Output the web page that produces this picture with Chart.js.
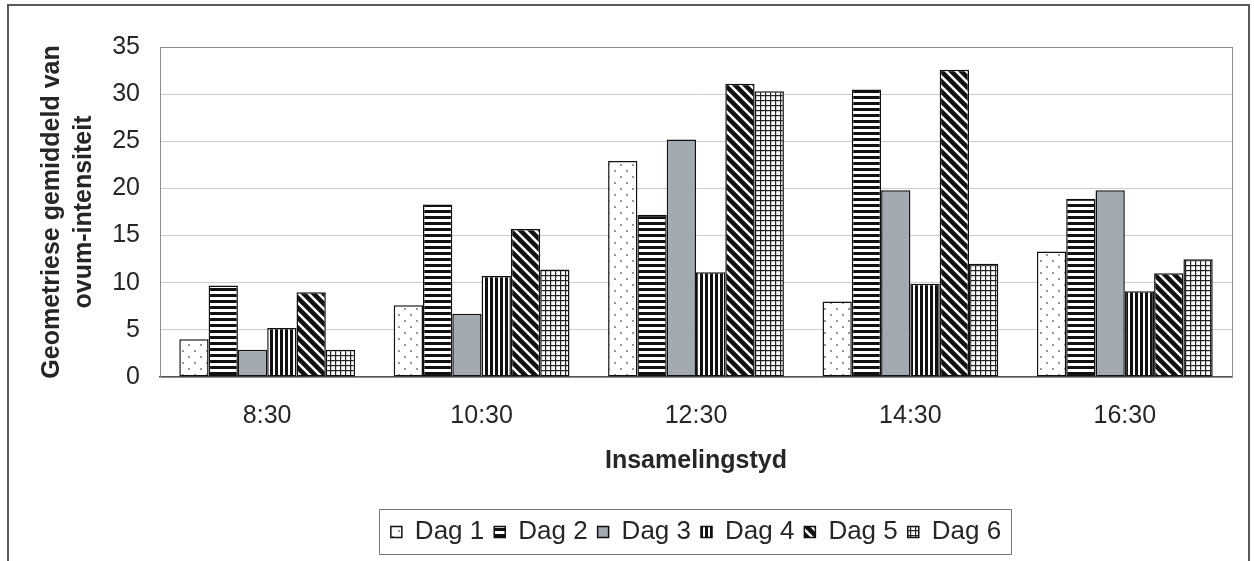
<!DOCTYPE html>
<html><head><meta charset="utf-8">
<script src="https://cdn.jsdelivr.net/npm/chart.js@4/dist/chart.umd.min.js"></script>
<style>
html,body{margin:0;padding:0;background:#fff;overflow:hidden;}
#wrap{position:relative;width:1254px;height:561px;}
#frame{position:absolute;left:7px;top:4px;width:1243px;height:620px;border:2px solid #5a5a5a;box-sizing:border-box;pointer-events:none;}
canvas{position:absolute;left:0;top:0;}
</style></head><body>
<div id="wrap"><canvas id="c" width="1254" height="561"></canvas><div id="frame"></div></div>
<script>
// ---- data ----
const categories = ['8:30', '10:30', '12:30', '14:30', '16:30'];
const seriesNames = ['Dag 1', 'Dag 2', 'Dag 3', 'Dag 4', 'Dag 5', 'Dag 6'];
const dag1 = [4.0, 7.6, 22.9, 8.0, 13.3];
const dag2 = [9.7, 18.3, 17.2, 30.5, 18.9];
const dag3 = [2.9, 6.7, 25.2, 19.8, 19.8];
const dag4 = [5.2, 10.7, 11.1, 9.9, 9.1];
const dag5 = [9.0, 15.7, 31.1, 32.6, 11.0];
const dag6 = [2.9, 11.4, 30.3, 12.0, 12.5];
const yMin = 0, yMax = 35, yStep = 5;
const yTitle = ['Geometriese gemiddeld van', 'ovum-intensiteit'];
const xTitle = 'Insamelingstyd';

// ---- patterns ----
const canvas = document.getElementById('c');
const mainCtx = canvas.getContext('2d');
function makePattern(w, h, draw) {
  const t = document.createElement('canvas');
  t.width = w; t.height = h;
  const g = t.getContext('2d');
  g.fillStyle = '#fff'; g.fillRect(0, 0, w, h);
  draw(g, w, h);
  return mainCtx.createPattern(t, 'repeat');
}
const pDots = makePattern(12, 12, g => {
  g.fillStyle = '#666';
  g.beginPath(); g.arc(3, 3, 0.9, 0, Math.PI * 2); g.fill();
  g.beginPath(); g.arc(9, 9, 0.9, 0, Math.PI * 2); g.fill();
});
const pHoriz = makePattern(6, 6, g => { g.fillStyle = '#111'; g.fillRect(0, 0, 6, 3); });
const pGray = '#a3a9b0';
const pVert = makePattern(5, 5, g => { g.fillStyle = '#111'; g.fillRect(0, 0, 3, 5); });
const pDiag = makePattern(10, 10, g => {
  g.strokeStyle = '#111'; g.lineWidth = 4.5; g.lineCap = 'square';
  g.beginPath();
  g.moveTo(-5, -5); g.lineTo(15, 15);
  g.moveTo(-5, 5); g.lineTo(5, 15);
  g.moveTo(5, -5); g.lineTo(15, 5);
  g.stroke();
});
const pGrid = makePattern(5, 5, g => { g.fillStyle = '#222'; g.fillRect(0, 0, 5, 1.2); g.fillRect(0, 0, 1.2, 5); });
const fills = [pDots, pHoriz, pGray, pVert, pDiag, pGrid];
const seriesValues = [dag1, dag2, dag3, dag4, dag5, dag6];

const FONT = '"Liberation Sans", Arial, sans-serif';
const TXT = '#262626';

const framePlugin = {
  id: 'frames',
  afterUpdate(chart) {
    const lg = chart.legend;
    const ca = chart.chartArea;
    const d = (ca.left + ca.right) / 2 - (lg.left + lg.right) / 2;
    lg.left += d; lg.right += d;
  },
  beforeDatasetsDraw(chart) {
    const {ctx, chartArea: a} = chart;
    ctx.save();
    ctx.strokeStyle = '#8c8c8c'; ctx.lineWidth = 1;
    ctx.strokeRect(a.left + 0.5, a.top + 0.5, a.right - a.left, a.bottom - a.top);
    ctx.restore();
  },
  afterDraw(chart) {
    const lg = chart.legend;
    const pad = lg.options.labels.padding;
    const rowW = lg.lineWidths[0];
    const startX = (lg.left + pad + lg.right - rowW) / 2;
    const fs = lg.options.labels.font.size;
    const cy = lg.top + pad + fs / 2;
    const {ctx} = chart;
    ctx.save();
    ctx.strokeStyle = '#777'; ctx.lineWidth = 1;
    ctx.strokeRect(Math.round(startX - 12) + 0.5, Math.round(cy - 23) + 0.5, Math.round(rowW - pad + 22), 45);
    ctx.restore();
  }
};

new Chart(canvas, {
  type: 'bar',
  data: {
    labels: categories,
    datasets: seriesNames.map((n, i) => ({
      label: n,
      data: seriesValues[i],
      backgroundColor: fills[i],
      borderColor: '#111',
      borderWidth: 1.5,
      borderSkipped: false,
      categoryPercentage: 0.82,
      barPercentage: 1.0
    }))
  },
  options: {
    responsive: false,
    animation: false,
    devicePixelRatio: 1,
    layout: {padding: {left: 20, right: 22, top: 47, bottom: 6}},
    plugins: {
      tooltip: {enabled: false},
      legend: {
        position: 'bottom',
        labels: {
          boxWidth: 11, boxHeight: 11, padding: 10,
          color: TXT,
          font: {family: FONT, size: 26}
        }
      }
    },
    scales: {
      x: {
        grid: {display: false},
        border: {display: true, color: '#555', width: 1.5},
        ticks: {color: TXT, font: {family: FONT, size: 25}, padding: 16, maxRotation: 0},
        title: {display: true, text: xTitle, color: TXT, font: {family: FONT, size: 25, weight: 'bold'}, padding: {top: 0, bottom: 33}},
        afterFit(s) { s.height = 132; }
      },
      y: {
        min: yMin, max: yMax,
        ticks: {stepSize: yStep, color: TXT, font: {family: FONT, size: 25}, padding: 20},
        grid: {color: '#cdcdcd', lineWidth: 1, drawTicks: false},
        border: {display: true, color: '#888', width: 1},
        title: {display: true, text: yTitle, color: TXT, font: {family: FONT, size: 25, weight: 'bold', lineHeight: 1.28}, padding: {top: 16, bottom: 0}},
        afterFit(s) { s.width = 140; }
      }
    }
  },
  plugins: [framePlugin]
});
</script>
</body></html>
